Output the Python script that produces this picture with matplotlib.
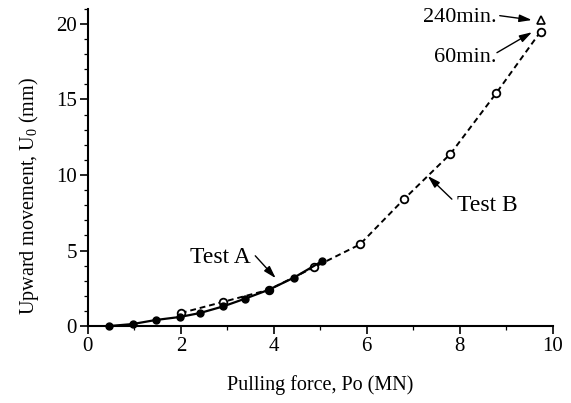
import matplotlib
matplotlib.use("Agg")
from matplotlib import pyplot as plt
from matplotlib.ticker import MultipleLocator

# Test A (filled dots, solid line)
force_a = [0.46, 0.96, 1.46, 1.98, 2.41, 2.91, 3.37, 3.89, 4.43, 5.04]
move_a = [0.0, 0.13, 0.4, 0.6, 0.86, 1.3, 1.8, 2.4, 3.2, 4.3]

# Test B (open circles, dashed line)
force_b = [2.0, 2.91, 3.89, 4.87, 5.85, 6.8, 7.8, 8.78, 9.74]
move_b = [0.86, 1.6, 2.4, 3.9, 5.4, 8.4, 11.4, 15.4, 19.5]

# 240 min. point
force_240 = [9.74]
move_240 = [20.25]

plt.rcParams['font.family'] = ['Liberation Serif', 'DejaVu Serif']
plt.rcParams['font.size'] = 15

fig = plt.figure(figsize=(5.71, 4.03), dpi=100)
ax = fig.add_axes([0.154, 0.191, 0.814, 0.787])

ax.plot(force_b, move_b, color='black', lw=1.4, ls=(0, (3, 2)),
        marker='o', ms=5.5, mfc='white', mec='black', mew=1.3)
ax.plot(force_a, move_a, color='black', lw=1.6, ls='-',
        marker='o', ms=5, mfc='black', mec='black')
ax.plot(force_240, move_240, ls='none', marker='^', ms=5.5,
        mfc='white', mec='black', mew=1.2)

ax.set_xlim(0, 10)
ax.set_ylim(0, 21)
ax.xaxis.set_major_locator(MultipleLocator(2))
ax.xaxis.set_minor_locator(MultipleLocator(1))
ax.yaxis.set_major_locator(MultipleLocator(5))
ax.yaxis.set_minor_locator(MultipleLocator(1))
ax.tick_params(which='major', length=6, width=1.2, direction='out', labelsize=15, pad=2)
ax.tick_params(which='minor', length=3, width=0.9, direction='out')
ax.spines['top'].set_visible(False)
ax.spines['right'].set_visible(False)
ax.spines['left'].set_linewidth(1.5)
ax.spines['bottom'].set_linewidth(1.5)
for ln in ax.lines:
    ln.set_clip_on(False)

ax.set_xlabel('Pulling force, Po (MN)', fontsize=14.5, labelpad=14)
ax.set_ylabel('Upward movement, U$_\\mathregular{0}$ (mm)', fontsize=14.5)
ax.yaxis.set_label_coords(-0.10, 0.41)

# labels, then arrows drawn on their own
ax.text(3.5, 4.55, 'Test A', fontsize=17, ha='right', va='center')
ax.text(7.95, 8.0, 'Test B', fontsize=17, ha='left', va='center')
ax.text(8.8, 20.45, '240min.', fontsize=16, ha='right', va='center')
ax.text(8.8, 17.75, '60min.', fontsize=16, ha='right', va='center')

arrow = dict(arrowstyle='-|>,head_length=0.5,head_width=0.15', color='black',
             lw=1.0, shrinkA=0, shrinkB=1)
ax.annotate('', xy=(4.06, 3.1), xytext=(3.6, 4.65), arrowprops=arrow)
ax.annotate('', xy=(7.29, 10.0), xytext=(7.83, 8.4), arrowprops=arrow)
ax.annotate('', xy=(9.58, 20.25), xytext=(8.86, 20.55), arrowprops=arrow,
            annotation_clip=False)
ax.annotate('', xy=(9.58, 19.5), xytext=(8.8, 18.1), arrowprops=arrow)

fig.savefig('out.png', dpi=100)
